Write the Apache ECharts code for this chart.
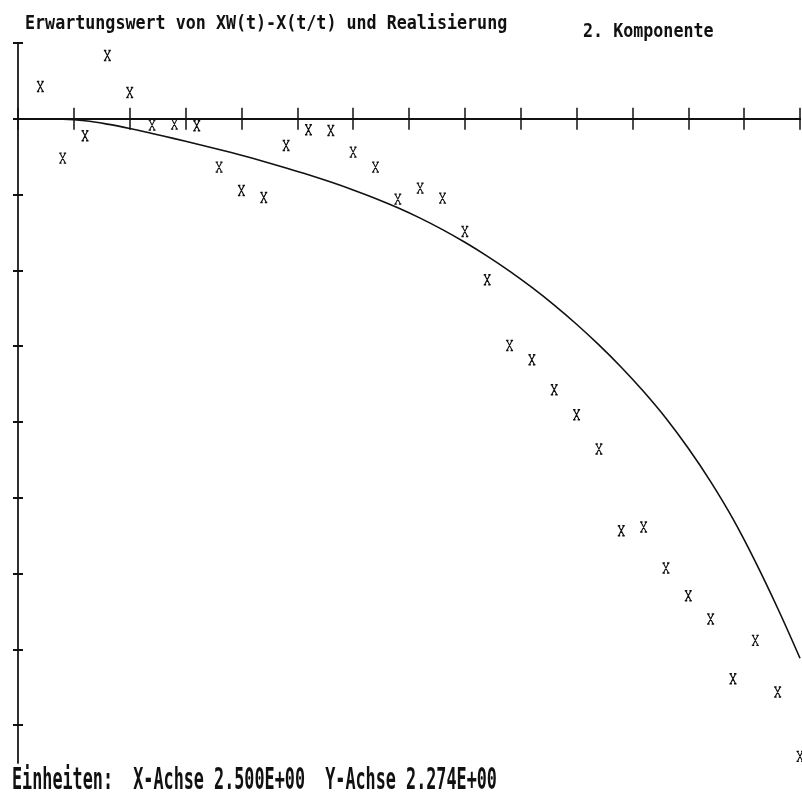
<!DOCTYPE html>
<html><head><meta charset="utf-8">
<script src="https://cdn.jsdelivr.net/npm/echarts@6/dist/echarts.min.js"></script>
<style>html,body{margin:0;padding:0;background:#fff}#c{width:802px;height:798px}</style>
</head><body><div id="c"></div>
<script>
// ---- texts ----
const titleText = 'Erwartungswert von XW(t)-X(t/t) und Realisierung';
const componentText = '2. Komponente';
const unitsText = 'Einheiten:  X-Achse 2.500E+00  Y-Achse 2.274E+00';

// ---- axis units ----
const xUnit = 2.5;     // one x tick
const yUnit = 2.274;   // one y tick
const xMin = 0, xMax = 35;
const yMin = -8.5 * yUnit, yMax = 1 * yUnit;
const yTickValues = [2.274, 0, -2.274, -4.548, -6.822, -9.096, -11.37, -13.644, -15.918, -18.192];

// ---- Realisierung (x markers) ----
const realT = [1,2,3,4,5,6,7,8,9,10,11,12,13,14,15,16,17,18,19,20,21,22,23,24,25,26,27,28,29,30,31,32,33,34,35];
const realValues = [0.97,-1.18,-0.51,1.90,0.79,-0.19,-0.16,-0.21,-1.45,-2.15,-2.36,-0.80,-0.33,-0.35,-1.00,-1.45,-2.41,-2.08,-2.38,-3.38,-4.83,-6.80,-7.23,-8.13,-8.88,-9.91,-12.36,-12.25,-13.48,-14.31,-15.01,-16.80,-15.65,-17.20,-19.13];

// ---- Erwartungswert (curve) ----
const expT = [0,1,2,3,4,5,6,7,8,9,10,11,12,13,14,15,16,17,18,19,20,21,22,23,24,25,26,27,28,29,30,31,32,33,34,35];
const expValues = [0,0,-0.01,-0.06,-0.16,-0.29,-0.44,-0.595,-0.755,-0.92,-1.095,-1.28,-1.475,-1.68,-1.90,-2.135,-2.39,-2.67,-2.98,-3.325,-3.705,-4.12,-4.57,-5.06,-5.59,-6.165,-6.785,-7.455,-8.185,-8.985,-9.885,-10.885,-12.005,-13.285,-14.685,-16.185];

const ink = '#111';
const xMarker = 'path://M0,0L6,10M6,0L0,10M-1,0L1.8,0M4.2,0L7,0M-1,10L1.8,10M4.2,10L7,10';

function xAxisDef(inside) {
  return {
    type: 'value', min: xMin, max: xMax, interval: xUnit, position: 'bottom',
    axisLine: { show: true, onZero: true, onZeroAxisIndex: 0, lineStyle: { color: ink, width: 2 } },
    axisTick: { show: true, inside: inside, length: 11, lineStyle: { color: ink, width: 1.5 } },
    axisLabel: { show: false }, splitLine: { show: false }
  };
}
function yAxisDef(inside) {
  return {
    type: 'value', min: yMin, max: yMax, position: 'left',
    axisLine: { show: true, onZero: false, lineStyle: { color: '#222', width: 1.5 } },
    axisTick: { show: true, inside: inside, length: 5, customValues: yTickValues, lineStyle: { color: ink, width: 2 } },
    axisLabel: { show: false }, splitLine: { show: false }
  };
}

const chart = echarts.init(document.getElementById('c'), null, { renderer: 'canvas' });
chart.setOption({
  animation: false,
  backgroundColor: '#fff',
  grid: { left: 18, top: 43, width: 782, height: 720, outerBoundsMode: 'none', containLabel: false },
  xAxis: [xAxisDef(false), xAxisDef(true)],
  yAxis: [yAxisDef(false), yAxisDef(true)],
  series: [
    {
      type: 'line', xAxisIndex: 0, yAxisIndex: 0,
      data: expT.map((t, i) => [t, expValues[i]]),
      showSymbol: false, smooth: 0.4,
      lineStyle: { color: ink, width: 1.6 }
    },
    {
      type: 'scatter', xAxisIndex: 0, yAxisIndex: 0,
      data: realT.map((t, i) => [t, realValues[i]]),
      symbol: xMarker, symbolSize: [7, 10],
      itemStyle: { color: ink, borderColor: ink, borderWidth: 1.2, opacity: 1 }
    }
  ],
  graphic: [
    { type: 'text', x: 25, y: 24, scaleY: 1.2,
      style: { text: titleText, font: 'bold 16.7px "DejaVu Sans Mono"', fill: ink, verticalAlign: 'middle', align: 'left' } },
    { type: 'text', x: 583, y: 32, scaleY: 1.2,
      style: { text: componentText, font: 'bold 16.7px "DejaVu Sans Mono"', fill: ink, verticalAlign: 'middle', align: 'left' } },
    { type: 'text', x: 12, y: 781, scaleY: 1.75,
      style: { text: unitsText, font: 'bold 16.8px "DejaVu Sans Mono"', fill: ink, verticalAlign: 'middle', align: 'left' } }
  ]
});
</script>
</body></html>
